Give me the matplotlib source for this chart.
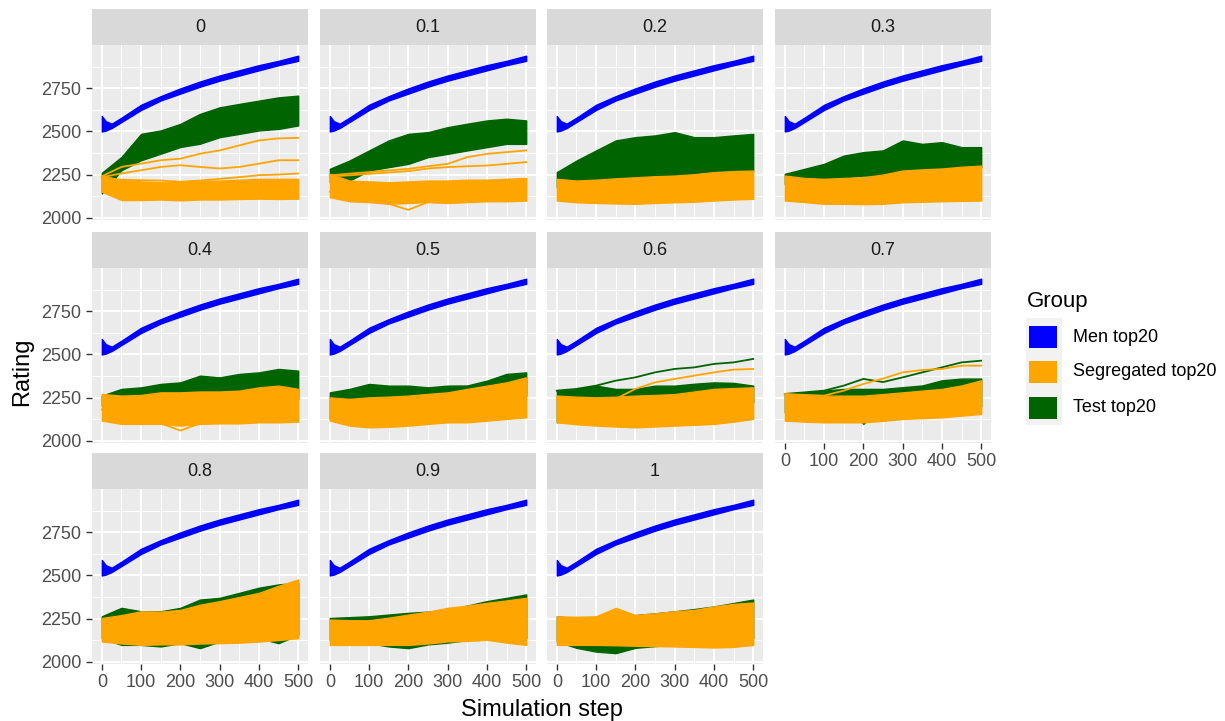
import matplotlib
matplotlib.use("Agg")
import matplotlib.pyplot as plt
from matplotlib.patches import Rectangle

plt.rcParams["font.family"] = ["Liberation Sans", "DejaVu Sans"]

# facet labels (proportion) and sampled simulation steps
FACETS = ["0", "0.1", "0.2", "0.3", "0.4", "0.5", "0.6", "0.7", "0.8", "0.9", "1"]
STEPS = [0, 50, 100, 150, 200, 250, 300, 350, 400, 450, 500]

# Men top20: thin band, practically identical in every facet
MEN_STEPS = [0, 10, 25, 50, 100, 150, 200, 250, 300, 350, 400, 450, 500]
MEN_LOW = [2500, 2505, 2520, 2555, 2625, 2680, 2720, 2760, 2795, 2825, 2855, 2885, 2910]
MEN_HIGH = [2590, 2560, 2545, 2580, 2655, 2705, 2750, 2790, 2825, 2855, 2885, 2910, 2940]

# Test top20 envelope per facet
TEST_LOW = {
    "0": [2140, 2275, 2333, 2371, 2410, 2429, 2467, 2486, 2506, 2515, 2535],
    "0.1": [2205, 2215, 2273, 2293, 2312, 2351, 2370, 2390, 2409, 2428, 2428],
    "0.2": [2176, 2205, 2215, 2215, 2215, 2234, 2234, 2254, 2264, 2264, 2273],
    "0.3": [2196, 2215, 2225, 2234, 2244, 2244, 2254, 2264, 2273, 2283, 2293],
    "0.4": [2203, 2193, 2193, 2203, 2203, 2213, 2203, 2213, 2222, 2242, 2242],
    "0.5": [2126, 2242, 2232, 2232, 2232, 2242, 2251, 2245, 2222, 2251, 2261],
    "0.6": [2106, 2203, 2203, 2200, 2203, 2213, 2213, 2220, 2222, 2225, 2222],
    "0.7": [2164, 2200, 2222, 2215, 2097, 2210, 2215, 2220, 2235, 2225, 2200],
    "0.8": [2136, 2097, 2097, 2088, 2107, 2078, 2117, 2117, 2136, 2107, 2156],
    "0.9": [2127, 2115, 2107, 2088, 2078, 2100, 2110, 2125, 2136, 2136, 2136],
    "1": [2117, 2080, 2058, 2049, 2080, 2090, 2097, 2100, 2100, 2110, 2136],
}
TEST_HIGH = {
    "0": [2260, 2352, 2486, 2506, 2544, 2602, 2640, 2660, 2679, 2698, 2708],
    "0.1": [2283, 2331, 2390, 2448, 2486, 2496, 2525, 2545, 2564, 2574, 2564],
    "0.2": [2264, 2331, 2390, 2448, 2467, 2477, 2496, 2467, 2467, 2477, 2486],
    "0.3": [2254, 2283, 2312, 2360, 2380, 2390, 2448, 2428, 2438, 2409, 2409],
    "0.4": [2261, 2300, 2309, 2329, 2338, 2377, 2367, 2387, 2396, 2416, 2406],
    "0.5": [2280, 2300, 2329, 2319, 2319, 2309, 2319, 2320, 2348, 2387, 2396],
    "0.6": [2290, 2300, 2319, 2300, 2300, 2319, 2319, 2330, 2338, 2335, 2319],
    "0.7": [2271, 2280, 2290, 2300, 2300, 2300, 2310, 2320, 2350, 2360, 2360],
    "0.8": [2263, 2312, 2292, 2292, 2312, 2360, 2370, 2399, 2429, 2448, 2458],
    "0.9": [2253, 2258, 2263, 2273, 2283, 2290, 2300, 2325, 2351, 2370, 2390],
    "1": [2263, 2250, 2234, 2260, 2270, 2280, 2292, 2305, 2320, 2340, 2360],
}

# Segregated top20 envelope per facet
SEG_LOW = {
    "0": [2150, 2102, 2102, 2105, 2100, 2105, 2105, 2108, 2110, 2108, 2110],
    "0.1": [2118, 2095, 2090, 2080, 2085, 2090, 2085, 2090, 2095, 2095, 2099],
    "0.2": [2099, 2089, 2085, 2082, 2080, 2085, 2089, 2092, 2099, 2105, 2109],
    "0.3": [2099, 2090, 2080, 2080, 2078, 2080, 2089, 2092, 2095, 2097, 2099],
    "0.4": [2116, 2097, 2097, 2097, 2087, 2097, 2100, 2100, 2106, 2106, 2110],
    "0.5": [2116, 2087, 2077, 2080, 2087, 2097, 2106, 2106, 2116, 2126, 2135],
    "0.6": [2106, 2095, 2087, 2082, 2077, 2082, 2087, 2092, 2097, 2110, 2126],
    "0.7": [2116, 2110, 2106, 2106, 2106, 2115, 2126, 2130, 2135, 2145, 2155],
    "0.8": [2117, 2105, 2097, 2100, 2100, 2105, 2107, 2110, 2117, 2125, 2136],
    "0.9": [2097, 2097, 2097, 2097, 2097, 2105, 2117, 2120, 2127, 2110, 2097],
    "1": [2097, 2097, 2097, 2095, 2092, 2090, 2088, 2085, 2082, 2085, 2097],
}
SEG_HIGH = {
    "0": [2246, 2217, 2210, 2205, 2210, 2215, 2215, 2220, 2225, 2225, 2225],
    "0.1": [2254, 2215, 2210, 2205, 2210, 2215, 2215, 2220, 2220, 2225, 2230],
    "0.2": [2225, 2215, 2220, 2228, 2234, 2240, 2244, 2252, 2264, 2270, 2273],
    "0.3": [2244, 2230, 2225, 2230, 2234, 2250, 2273, 2280, 2285, 2295, 2302],
    "0.4": [2271, 2261, 2265, 2280, 2280, 2285, 2285, 2290, 2309, 2319, 2300],
    "0.5": [2251, 2242, 2251, 2255, 2261, 2271, 2280, 2300, 2319, 2338, 2367],
    "0.6": [2261, 2255, 2251, 2255, 2261, 2265, 2270, 2285, 2300, 2305, 2309],
    "0.7": [2271, 2265, 2261, 2261, 2261, 2270, 2280, 2290, 2300, 2320, 2350],
    "0.8": [2253, 2270, 2292, 2290, 2300, 2330, 2351, 2375, 2399, 2440, 2477],
    "0.9": [2244, 2240, 2240, 2255, 2273, 2290, 2312, 2325, 2341, 2355, 2370],
    "1": [2263, 2260, 2263, 2312, 2270, 2280, 2292, 2300, 2320, 2335, 2343],
}

# single runs that leave the main bundle
TEST_EXTRA = {
    "0.6": [[2290, 2300, 2319, 2348, 2367, 2396, 2416, 2425, 2445, 2454, 2474]],
    "0.7": [[2271, 2280, 2290, 2319, 2358, 2340, 2367, 2396, 2425, 2454, 2464]],
}
SEG_EXTRA = {
    "0": [
        [2240, 2294, 2313, 2333, 2342, 2371, 2390, 2419, 2448, 2460, 2463],
        [2235, 2256, 2275, 2294, 2304, 2294, 2285, 2294, 2313, 2333, 2333],
        [2230, 2220, 2217, 2215, 2208, 2215, 2225, 2235, 2246, 2250, 2256],
    ],
    "0.1": [
        [2245, 2255, 2264, 2274, 2283, 2298, 2312, 2351, 2370, 2380, 2390],
        [2240, 2245, 2254, 2262, 2270, 2285, 2293, 2298, 2302, 2312, 2322],
        [2150, 2130, 2110, 2080, 2045, 2090, 2110, 2100, 2110, 2120, 2115],
    ],
    "0.4": [[2180, 2150, 2130, 2100, 2058, 2100, 2120, 2130, 2130, 2140, 2150]],
    "0.6": [[2242, 2242, 2242, 2242, 2300, 2338, 2358, 2377, 2396, 2412, 2416]],
    "0.7": [[2271, 2265, 2261, 2290, 2329, 2360, 2396, 2410, 2416, 2435, 2435]],
}

GROUPS = ["Men top20", "Segregated top20", "Test top20"]
COLORS = {"Men top20": "#0000FF", "Segregated top20": "#FFA500", "Test top20": "#006400"}

W, H = 1225, 721
fig = plt.figure(figsize=(W / 100, H / 100), dpi=100)

COL_LEFT = [92, 320, 547, 775]
STRIP_TOP = [9, 232, 453]
PANEL_W, STRIP_H, PANEL_H = 216, 36, 175


def px_axes(left, top, w, h):
    return fig.add_axes([left / W, 1 - (top + h) / H, w / W, h / H])


for i, facet in enumerate(FACETS):
    r, c = divmod(i, 4)
    left, top = COL_LEFT[c], STRIP_TOP[r]

    strip = px_axes(left, top, PANEL_W, STRIP_H)
    strip.set_facecolor("#D9D9D9")
    strip.set_xticks([])
    strip.set_yticks([])
    for s in strip.spines.values():
        s.set_visible(False)
    strip.text(0.5, 0.5, facet, ha="center", va="center", fontsize=13, color="#1A1A1A",
               transform=strip.transAxes)

    ax = px_axes(left, top + STRIP_H, PANEL_W, PANEL_H)
    ax.set_facecolor("#EBEBEB")
    ax.set_xlim(-25, 525)
    ax.set_ylim(1986, 3002)
    ax.set_xticks([0, 100, 200, 300, 400, 500])
    ax.set_xticks([50, 150, 250, 350, 450], minor=True)
    ax.set_yticks([2000, 2250, 2500, 2750])
    ax.set_yticks([2125, 2375, 2625, 2875], minor=True)
    ax.grid(which="major", color="white", linewidth=1.4)
    ax.grid(which="minor", color="white", linewidth=0.7)
    ax.set_axisbelow(True)
    for s in ax.spines.values():
        s.set_visible(False)
    ax.tick_params(which="minor", length=0)
    ax.tick_params(which="major", length=4, width=1, color="#333333",
                   labelsize=13, labelcolor="#4D4D4D")
    if c != 0:
        ax.tick_params(axis="y", left=False, labelleft=False)
    bottom = r == 2 or (r == 1 and c == 3)
    if not bottom:
        ax.tick_params(axis="x", bottom=False, labelbottom=False)

    green = COLORS["Test top20"]
    orange = COLORS["Segregated top20"]
    blue = COLORS["Men top20"]

    ax.fill_between(STEPS, TEST_LOW[facet], TEST_HIGH[facet], color=green, linewidth=1)
    for run in TEST_EXTRA.get(facet, []):
        ax.plot(STEPS, run, color=green, linewidth=1.3)
    ax.fill_between(STEPS, SEG_LOW[facet], SEG_HIGH[facet], color=orange, linewidth=1)
    for run in SEG_EXTRA.get(facet, []):
        ax.plot(STEPS, run, color=orange, linewidth=1.3)
    ax.fill_between(MEN_STEPS, MEN_LOW, MEN_HIGH, color=blue, linewidth=1)

fig.text(22 / W, 1 - 372 / H, "Rating", rotation=90, ha="center", va="center", fontsize=17)
fig.text(542 / W, 1 - 710 / H, "Simulation step", ha="center", va="center", fontsize=17)

# legend
fig.text(1027 / W, 1 - 301 / H, "Group", ha="left", va="center", fontsize=16)
fig.add_artist(Rectangle((1026 / W, 1 - 425 / H), 36 / W, 107 / H,
                         transform=fig.transFigure, facecolor="#F2F2F2", edgecolor="none"))
for k, (group, yc) in enumerate(zip(GROUPS, [337, 372, 408])):
    fig.add_artist(Rectangle((1029 / W, 1 - (yc + 11) / H), 28 / W, 22 / H,
                             transform=fig.transFigure, facecolor=COLORS[group], edgecolor="none"))
    fig.text(1073 / W, 1 - yc / H, group, ha="left", va="center", fontsize=13)

fig.savefig("out.png", dpi=100)
